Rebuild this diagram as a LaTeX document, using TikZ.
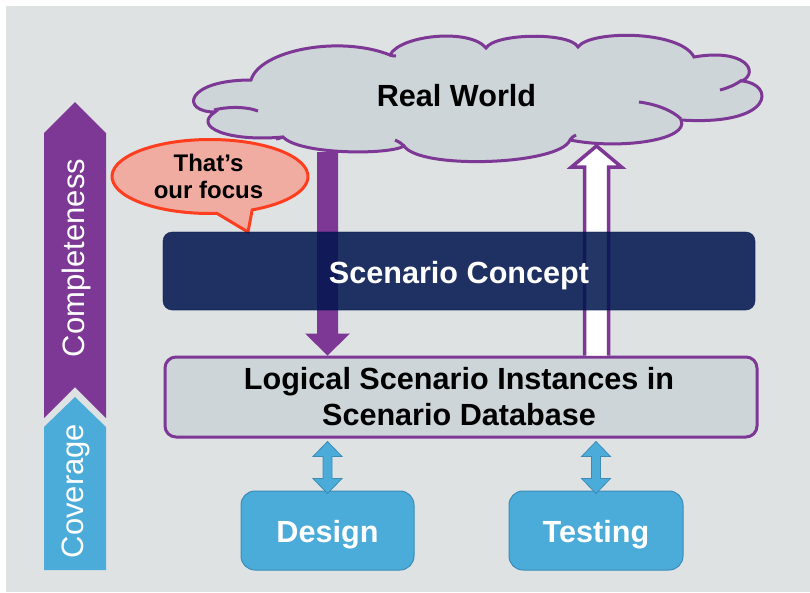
\documentclass[tikz,border=0pt]{standalone}
\usepackage{fontspec}
\setmainfont{Liberation Sans}
\usetikzlibrary{calc}
\definecolor{bg}{HTML}{DEE2E3}
\definecolor{cloudfill}{HTML}{CDD5D8}
\definecolor{purp}{HTML}{7D3795}
\definecolor{blu}{HTML}{4BABD9}
\definecolor{bluedge}{HTML}{3C8CB8}
\definecolor{navy}{HTML}{00154E}
\definecolor{bubfill}{HTML}{F1ACA2}
\definecolor{bubedge}{HTML}{FF3D1F}
\begin{document}
\begin{tikzpicture}[x=1pt,y=-1pt,
  bigtxt/.style={font=\bfseries\fontsize{30.6}{36}\selectfont, inner sep=0pt, anchor=base},
  sidetxt/.style={font=\fontsize{31}{36}\selectfont, text=white, inner sep=0pt, rotate=90},
  conceptbox/.style={draw=navy, draw opacity=0.6, line width=0.6pt, fill=navy, fill opacity=0.86, rounded corners=9pt, inner sep=0pt},
  logicbox/.style={draw=purp, line width=3pt, fill=cloudfill, rounded corners=11pt, inner sep=0pt},
  bluebox/.style={draw=bluedge, line width=1pt, fill=blu, rounded corners=14pt, inner sep=0pt},
  cloudline/.style={draw=purp, line width=3pt},
  dblarr/.pic={\filldraw[fill=blu, draw=bluedge, line width=0.8pt]
     (0,0) -- (14.5,15) -- (4.5,15) -- (4.5,37) -- (14.5,37) -- (0,52) -- (-14.5,37) -- (-4.5,37) -- (-4.5,15) -- (-14.5,15) -- cycle;}
]
\useasboundingbox (0,0) rectangle (810,592);
\fill[white] (0,0) rectangle (810,592);
\fill[bg] (6,6) rectangle (810,592);

% side arrows
\fill[purp] (44,133) -- (75,102) -- (106,133) -- (106,418) -- (75,387) -- (44,418) -- cycle;
\fill[blu] (44,427) -- (75,397) -- (106,427) -- (106,570) -- (44,570) -- cycle;
\node[sidetxt] (compl) at (76,258) {Completeness};
\node[sidetxt] (cover) at (76,491) {Coverage};

% cloud
\path[cloudline, fill=cloudfill]
  (251,80) .. controls (260,50) and (340,35) .. (390,55)
  .. controls (400,35) and (470,28) .. (486,48)
  .. controls (495,33) and (570,32) .. (578,47)
  .. controls (590,30) and (680,30) .. (694,57)
  .. controls (745,48) and (760,72) .. (742,81)
  .. controls (775,84) and (775,126) .. (681,120)
  .. controls (690,140) and (620,150) .. (570,140)
  .. controls (560,165) and (420,170) .. (404,146)
  .. controls (390,155) and (300,155) .. (283,137)
  .. controls (228,142) and (192,127) .. (215,112)
  .. controls (180,112) and (185,80) .. (251,80) -- cycle;
\draw[cloudline] (214,110) .. controls (230,106) and (248,107) .. (258,111);
\draw[cloudline] (742,80) .. controls (735,85) and (728,88) .. (720,90);
\draw[cloudline] (681,119) .. controls (672,110) and (655,104) .. (639,102);
\draw[cloudline] (404,146) .. controls (400,142) and (397,141) .. (395,140);
\draw[cloudline] (570,140) .. controls (572,137) and (574,136) .. (576,135);
\draw[cloudline] (390,55) .. controls (392,56) and (394,56) .. (396,56);
\draw[cloudline] (283,137) .. controls (280,138) and (278,139) .. (276,139);
\node[bigtxt] (rw) at (456.5,106) {Real World};

% logical box
\node[logicbox, minimum width=592pt, minimum height=80pt] (logic) at (461,397) {};
\node[bigtxt] (l1) at (459,389) {Logical Scenario Instances in};
\node[bigtxt] (l2) at (459,425) {Scenario Database};

% arrows cloud <-> logic
\coordinate (dtop) at (327.5,152);
\coordinate (dtip) at (logic.north -| dtop);
\fill[purp] ($(dtop)+(-10.5,0)$) -- ($(dtop)+(10.5,0)$) -- ($(dtip)+(10.5,-22)$) -- ($(dtip)+(22.5,-22)$)
  -- (dtip) -- ($(dtip)+(-22.5,-22)$) -- ($(dtip)+(-10.5,-22)$) -- cycle;
\coordinate (utip) at (596.5,146);
\coordinate (ubot) at (logic.north -| utip);
\filldraw[fill=white, draw=purp, line width=3.5pt, line join=miter]
  ($(ubot)+(-12,0)$) -- ($(utip)+(-12,21)$) -- ($(utip)+(-25,21)$) -- (utip)
  -- ($(utip)+(25,21)$) -- ($(utip)+(12,21)$) -- ($(ubot)+(12,0)$);

% speech bubble
\filldraw[fill=bubfill, draw=bubedge, line width=3pt]
  (217,213.4) arc[start angle=85.9, end angle=424.5, x radius=98, y radius=37]
  -- (248,232) -- cycle;
\node[font=\bfseries\fontsize{24}{27}\selectfont, inner sep=0pt, anchor=base, align=center] (focus) at (208.5,198) {That’s\\our focus};

% concept box
\node[conceptbox, minimum width=592pt, minimum height=78pt] (concept) at (459,271) {};
\node[bigtxt, text=white] (ctext) at (459,283) {Scenario Concept};

% design / testing
\node[bluebox, minimum width=173pt, minimum height=79pt] (design) at (327.5,530.5) {};
\node[bluebox, minimum width=174pt, minimum height=79pt] (testing) at (596,530.5) {};
\node[bigtxt, text=white] (dtext) at (design.center |- 0,542) {Design};
\node[bigtxt, text=white] (ttext) at (testing.center |- 0,542) {Testing};
\path ($(logic.south -| design.north)+(0,3)$) pic {dblarr};
\path ($(logic.south -| testing.north)+(0,3)$) pic {dblarr};
\end{tikzpicture}
\end{document}
